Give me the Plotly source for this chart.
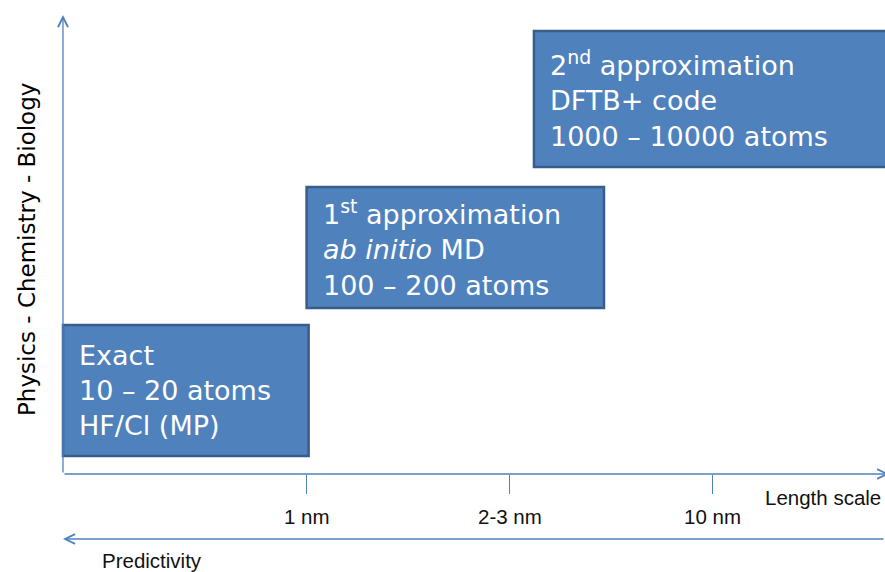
import plotly.graph_objects as go

# Length-scale axis: tick positions and their labels
tick_positions = [1.2, 2.2, 3.2]
tick_labels = ["1 nm", "2-3 nm", "10 nm"]

# Method boxes: extent along length scale (x) and complexity (y)
box_x0 = [0.0, 1.2, 2.32]
box_x1 = [1.21, 2.665, 4.3]
box_y0 = [0.18, 1.66, 3.07]
box_y1 = [1.49, 2.87, 4.43]
box_texts = [
    "Exact<br>10 \u2013 20 atoms<br>HF/Cl (MP)",
    "1<sup>st</sup> approximation<br><i>ab initio</i> MD<br>100 \u2013 200 atoms",
    "2<sup>nd</sup> approximation<br>DFTB+ code<br>1000 \u2013 10000 atoms",
]

# Axis extents
x_end = 4.07
y_end = 4.59
predictivity_y = -0.65

W, H = 885, 572
X_RANGE = [-0.3103, 4.0493]
Y_RANGE = [-0.98, 4.74]

AXIS_BLUE = "#4F81BD"
BOX_FILL = "#4F81BD"
BOX_EDGE = "#385D8A"
LABEL_FONT = dict(family="Liberation Sans, Arial, sans-serif", size=20.5, color="#111111")

fig = go.Figure()

shapes = []
annotations = []

for x0, x1, y0, y1, txt in zip(box_x0, box_x1, box_y0, box_y1, box_texts):
    shapes.append(dict(
        type="rect", xref="x", yref="y", x0=x0, x1=x1, y0=y0, y1=y1,
        fillcolor=BOX_FILL, line=dict(color=BOX_EDGE, width=2.5), layer="above",
    ))
    annotations.append(dict(
        x=x0, y=(y0 + y1) / 2, xref="x", yref="y", xanchor="left", yanchor="middle",
        xshift=14, align="left", showarrow=False, text=txt,
        font=dict(family="DejaVu Sans", size=27, color="white"),
    ))

# Vertical axis with arrow
annotations.append(dict(
    x=0, y=y_end, ax=0, ay=0, xref="x", yref="y", axref="x", ayref="y",
    text="", showarrow=True, arrowhead=5, arrowsize=1.5, arrowwidth=1.3,
    arrowcolor=AXIS_BLUE,
))
# Horizontal (length scale) axis with arrow
annotations.append(dict(
    x=x_end, y=0, ax=0, ay=0, xref="x", yref="y", axref="x", ayref="y",
    text="", showarrow=True, arrowhead=5, arrowsize=1.5, arrowwidth=1.3,
    arrowcolor=AXIS_BLUE,
))
# Predictivity arrow pointing left
annotations.append(dict(
    x=0, y=predictivity_y, ax=X_RANGE[1], ay=predictivity_y,
    xref="x", yref="y", axref="x", ayref="y",
    text="", showarrow=True, arrowhead=5, arrowsize=1.5, arrowwidth=1.3,
    arrowcolor=AXIS_BLUE,
))

# Tick labels
for pos, lab in zip(tick_positions, tick_labels):
    annotations.append(dict(
        x=pos, y=-0.42, xref="x", yref="y", xanchor="center", yanchor="middle",
        showarrow=False, text=lab, font=LABEL_FONT,
    ))

annotations.append(dict(
    x=3.448, y=-0.23, xref="x", yref="y", xanchor="left", yanchor="middle",
    showarrow=False, text="Length scale", font=LABEL_FONT,
))
annotations.append(dict(
    x=0.182, y=-0.86, xref="x", yref="y", xanchor="left", yanchor="middle",
    showarrow=False, text="Predictivity", font=LABEL_FONT,
))
annotations.append(dict(
    x=-0.177, y=2.24, xref="x", yref="y", xanchor="center", yanchor="middle",
    showarrow=False, text="Physics - Chemistry - Biology", textangle=-90,
    font=dict(family="DejaVu Sans", size=23, color="black"),
))

fig.update_layout(
    width=W, height=H,
    margin=dict(l=0, r=0, t=0, b=0),
    paper_bgcolor="white", plot_bgcolor="white",
    showlegend=False,
    shapes=shapes,
    annotations=annotations,
    xaxis=dict(
        range=X_RANGE, showgrid=False, zeroline=False, showline=False,
        tickmode="array", tickvals=tick_positions, ticks="outside",
        ticklen=19, tickwidth=1.3, tickcolor=AXIS_BLUE,
        showticklabels=False, anchor="free", position=(H - 474) / H,
        fixedrange=True,
    ),
    yaxis=dict(
        range=Y_RANGE, visible=False, showgrid=False, zeroline=False,
        fixedrange=True,
    ),
)

fig.write_html("out.html", config={"displayModeBar": False})
